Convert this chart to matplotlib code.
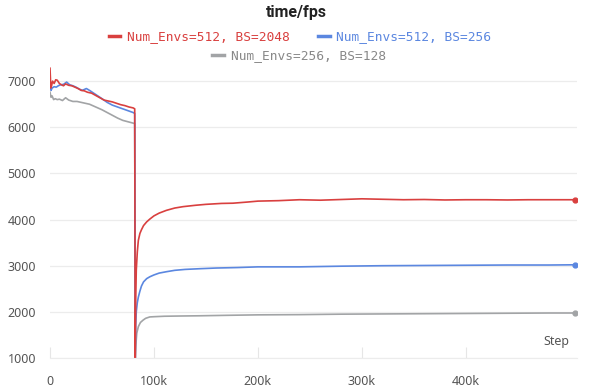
import matplotlib
matplotlib.use("Agg")
import matplotlib.pyplot as plt
from matplotlib.lines import Line2D

# ---- data (steps in thousands) ----
red_steps = [0, 0.8, 1.5, 2.5, 4, 5.5, 7, 9, 11, 13, 15, 18, 21, 24, 27, 30, 33, 36, 40, 44, 48,
             52, 56, 60, 64, 68, 72, 76, 80, 81.5, 82, 82.5, 83, 84, 85, 86.5, 88, 90, 93, 96, 100,
             105, 112, 120, 128, 140, 150, 165, 176, 190, 200, 220, 240, 260, 280, 300, 320, 340,
             360, 380, 400, 420, 440, 460, 480, 505]
red_vals = [7280, 6850, 6900, 7000, 6950, 7030, 7020, 6950, 6920, 6900, 6940, 6910, 6900, 6870,
            6840, 6800, 6790, 6760, 6740, 6690, 6640, 6590, 6570, 6550, 6520, 6490, 6470, 6440,
            6420, 6400, 1000, 2300, 2900, 3300, 3550, 3700, 3780, 3870, 3950, 4010, 4080, 4140,
            4200, 4250, 4280, 4310, 4330, 4350, 4355, 4380, 4400, 4410, 4430, 4420, 4435, 4450,
            4440, 4430, 4435, 4425, 4430, 4430, 4425, 4430, 4430, 4430]

blue_steps = [0, 1, 2, 4, 6, 8, 10, 13, 16, 19, 22, 25, 28, 31, 35, 38, 42, 46, 50, 55, 60, 65,
              70, 75, 80, 81.5, 82, 82.5, 83, 84, 85, 86.5, 88, 90, 93, 96, 100, 105, 112, 120,
              130, 144, 160, 180, 200, 240, 280, 320, 360, 400, 440, 480, 505]
blue_vals = [6950, 6800, 6850, 6880, 6870, 6900, 6920, 6930, 6980, 6920, 6900, 6870, 6830, 6800,
             6840, 6800, 6740, 6680, 6620, 6540, 6480, 6440, 6400, 6360, 6320, 6300, 1000, 1700,
             2000, 2200, 2320, 2450, 2560, 2650, 2720, 2760, 2800, 2840, 2870, 2900, 2920, 2935,
             2950, 2960, 2975, 2975, 2990, 3000, 3005, 3010, 3015, 3015, 3020]

gray_steps = [0, 1, 2, 3.5, 5, 7, 9, 12, 15, 18, 22, 26, 30, 34, 38, 42, 46, 50, 55, 60, 65, 70,
              75, 80, 81.5, 82, 82.5, 83, 83.5, 85, 87, 89.5, 92, 96, 100, 110, 125, 144, 170,
              200, 240, 280, 320, 360, 400, 440, 480, 505]
gray_vals = [6760, 6650, 6680, 6600, 6620, 6600, 6610, 6580, 6640, 6590, 6560, 6560, 6540, 6520,
             6500, 6460, 6420, 6380, 6320, 6260, 6200, 6150, 6120, 6090, 6080, 1000, 1250, 1400,
             1540, 1680, 1770, 1820, 1860, 1890, 1895, 1905, 1910, 1915, 1925, 1935, 1940, 1950,
             1955, 1960, 1965, 1970, 1975, 1975]

labels = ["Num_Envs=512, BS=2048", "Num_Envs=512, BS=256", "Num_Envs=256, BS=128"]
colors = ["#d9403f", "#5b87e0", "#a2a4a6"]
x_ticks = [0, 100, 200, 300, 400]
x_ticklabels = ["0", "100k", "200k", "300k", "400k"]
y_ticks = [1000, 2000, 3000, 4000, 5000, 6000, 7000]

fig = plt.figure(figsize=(5.91, 3.89), dpi=100)
ax = fig.add_axes([50 / 591, 1 - 358 / 389, 527 / 591, (358 - 65) / 389])

series = [(red_steps, red_vals), (blue_steps, blue_vals), (gray_steps, gray_vals)]
# draw gray first, then blue, then red on top
for (xs, ys), c in reversed(list(zip(series, colors))):
    ax.plot(xs, ys, color=c, lw=1.2, solid_joinstyle="round")
    ax.plot([xs[-1]], [ys[-1]], "o", color=c, ms=3.5)

ax.set_xlim(0, 507)
ax.set_ylim(1000, 7350)
ax.set_xticks(x_ticks)
ax.set_xticklabels(x_ticklabels)
ax.set_yticks(y_ticks)
ax.grid(axis="y", color="#ececec", lw=0.9)
ax.set_axisbelow(True)
for s in ["top", "right", "left"]:
    ax.spines[s].set_visible(False)
ax.spines["bottom"].set_color("#ececec")
ax.tick_params(axis="y", length=0, pad=10, labelcolor="#555555", labelsize=9)
ax.tick_params(axis="x", length=8, direction="in", color="#e6e6e6", pad=12,
               labelcolor="#555555", labelsize=9)
for lab in ax.get_xticklabels() + ax.get_yticklabels():
    lab.set_family("Noto Sans")

ax.text(0.985, 0.035, "Step", transform=ax.transAxes, ha="right", va="bottom",
        fontsize=9, color="#555555", family="Noto Sans")

fig.text(296 / 591, 1 - 12 / 389, "time/fps", ha="center", va="center",
         fontsize=11.5, fontweight="bold", color="#222222", family="Roboto")

handles = [Line2D([], [], color=c, lw=2.5) for c in colors]
leg1 = fig.legend(handles[:2], labels[:2], ncol=2, loc="center",
                  bbox_to_anchor=(300 / 591, 1 - 37 / 389), frameon=False,
                  prop={"family": "DejaVu Sans Mono", "size": 9.3},
                  handlelength=0.9, handletextpad=0.5, columnspacing=2.2,
                  borderpad=0, borderaxespad=0)
for t, c in zip(leg1.get_texts(), colors[:2]):
    t.set_color(c)
leg2 = fig.legend(handles[2:], labels[2:], loc="center",
                  bbox_to_anchor=(299 / 591, 1 - 56 / 389), frameon=False,
                  prop={"family": "DejaVu Sans Mono", "size": 9.3},
                  handlelength=0.9, handletextpad=0.5, borderpad=0, borderaxespad=0)
for t in leg2.get_texts():
    t.set_color("#888888")

fig.savefig("out.png", dpi=100)
